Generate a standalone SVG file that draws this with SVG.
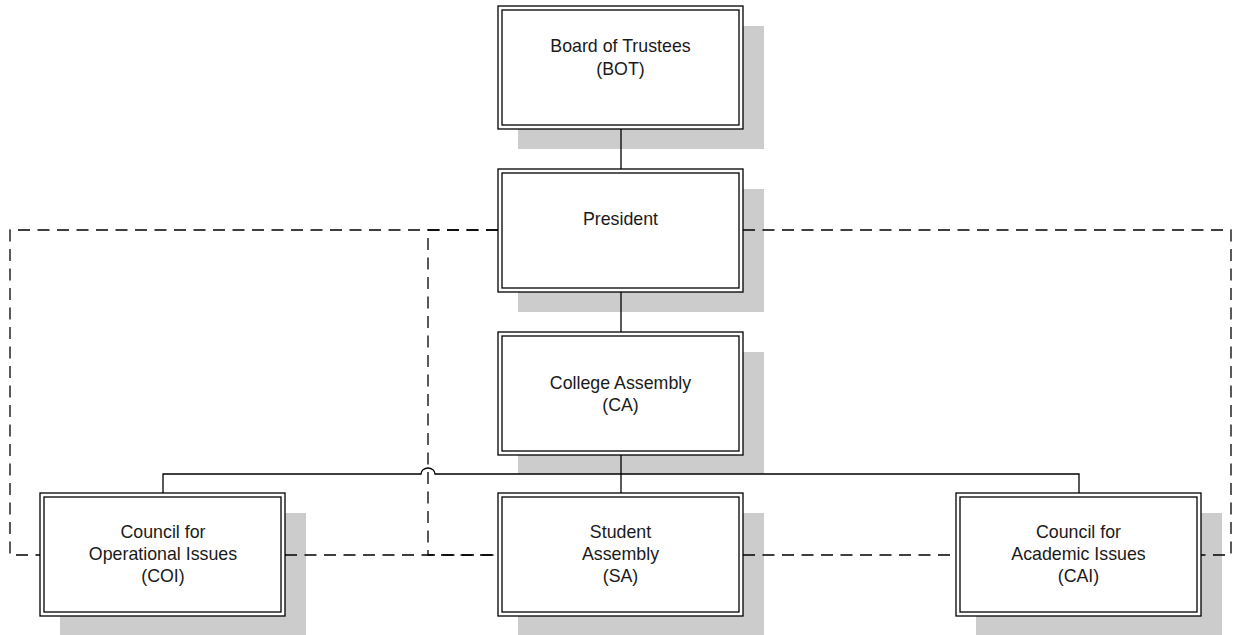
<svg xmlns="http://www.w3.org/2000/svg" width="1233" height="635" viewBox="0 0 1233 635">
  <style>
    .shadow { fill: #cccccc; stroke: none; }
    .outer { fill: #ffffff; stroke: #000000; stroke-width: 1.3; }
    .inner { fill: none; stroke: #000000; stroke-width: 1.3; }
    .label { font-family: "Liberation Sans", Arial, sans-serif; font-size: 17.8px; fill: #1a1a1a; text-anchor: middle; }
    .solid { fill: none; stroke: #000000; stroke-width: 1.3; }
    .dashed { fill: none; stroke: #000000; stroke-width: 1.3; stroke-dasharray: 12 7.5; }
  </style>
  <defs>
    <!-- one framed box with a drop shadow; placed at each node position -->
    <g id="box">
      <rect class="outer" x="0" y="0" width="245" height="123"/>
      <rect class="inner" x="4" y="4" width="237" height="115"/>
    </g>
  </defs>

  <!-- drop shadows -->
  <g id="shadows">
    <rect class="shadow" x="518" y="26" width="246" height="123"/>
    <rect class="shadow" x="518" y="189" width="246" height="123"/>
    <rect class="shadow" x="518" y="352" width="246" height="122"/>
    <rect class="shadow" x="60" y="513" width="246" height="123"/>
    <rect class="shadow" x="518" y="513" width="246" height="123"/>
    <rect class="shadow" x="976" y="513" width="246" height="123"/>
  </g>

  <!-- connectors -->
  <g id="connectors">
    <path class="solid" d="M621,129 V169"/>
    <path class="solid" d="M621,292 V332"/>
    <path class="solid" d="M621,455 V474"/>
    <path class="solid" d="M163,493 V474 H421 A7,6 0 0 1 435,474 H1079 V493"/>
    <path class="solid" d="M621,474 V493"/>
    <!-- advisory links -->
    <path class="dashed" d="M498,230 H10 V555 H40"/>
    <path class="dashed" d="M498,230 H428 V555 H498"/>
    <path class="dashed" d="M743,230 H1231 V555 H1201"/>
    <path class="dashed" d="M285,555 H498"/>
    <path class="dashed" d="M743,555 H956"/>
  </g>

  <g id="bot">
    <use href="#box" x="498" y="6"/>
    <text class="label" x="620.5" y="52">Board of Trustees</text>
    <text class="label" x="620.5" y="75">(BOT)</text>
  </g>

  <g id="president">
    <use href="#box" x="498" y="169"/>
    <text class="label" x="620.5" y="225">President</text>
  </g>

  <g id="college-assembly">
    <use href="#box" x="498" y="332"/>
    <text class="label" x="620.5" y="388.5">College Assembly</text>
    <text class="label" x="620.5" y="410.5">(CA)</text>
  </g>

  <g id="coi">
    <use href="#box" x="40" y="493"/>
    <text class="label" x="163" y="538">Council for</text>
    <text class="label" x="163" y="560">Operational Issues</text>
    <text class="label" x="163" y="582">(COI)</text>
  </g>

  <g id="student-assembly">
    <use href="#box" x="498" y="493"/>
    <text class="label" x="620.5" y="538">Student</text>
    <text class="label" x="620.5" y="560">Assembly</text>
    <text class="label" x="620.5" y="582">(SA)</text>
  </g>

  <g id="cai">
    <use href="#box" x="956" y="493"/>
    <text class="label" x="1078.5" y="538">Council for</text>
    <text class="label" x="1078.5" y="560">Academic Issues</text>
    <text class="label" x="1078.5" y="582">(CAI)</text>
  </g>
</svg>
